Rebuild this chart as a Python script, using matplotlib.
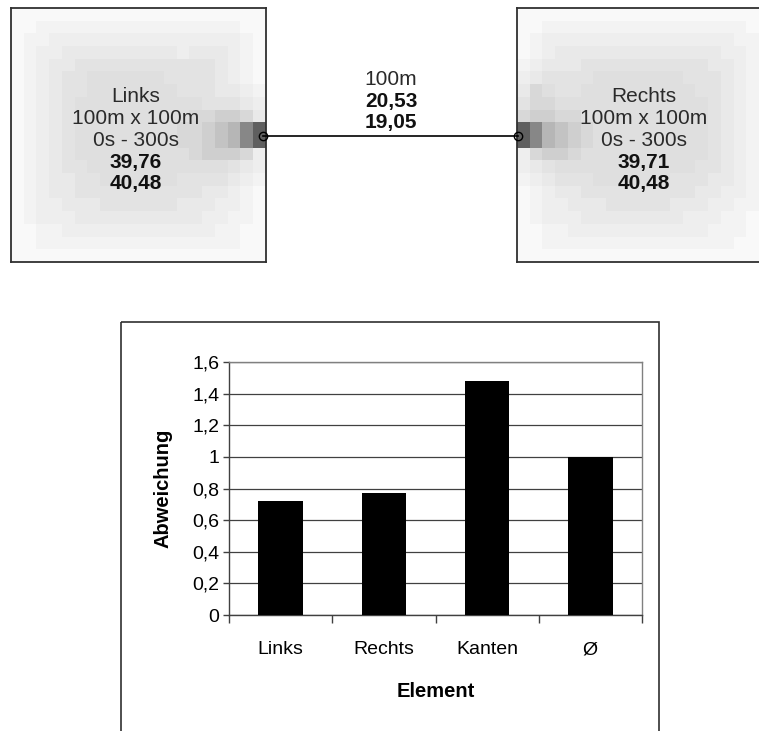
import matplotlib
matplotlib.use("Agg")
import matplotlib.pyplot as plt
import numpy as np
from matplotlib.patches import Rectangle

plt.rcParams['font.family'] = ['Liberation Sans', 'DejaVu Sans']

# ---------------- data ----------------
categories = ["Links", "Rechts", "Kanten", "\u00d8"]
abweichung = [0.72, 0.77, 1.48, 1.00]
y_ticks = [0, 0.2, 0.4, 0.6, 0.8, 1.0, 1.2, 1.4, 1.6]
y_tick_labels = ["0", "0,2", "0,4", "0,6", "0,8", "1", "1,2", "1,4", "1,6"]
x_label = "Element"
y_label = "Abweichung"

left_lines = ["Links", "100m x 100m", "0s - 300s", "39,76", "40,48"]
right_lines = ["Rechts", "100m x 100m", "0s - 300s", "39,71", "40,48"]
line_bold = [False, False, False, True, True]
edge_lines = ["100m", "20,53", "19,05"]
edge_bold = [False, True, True]

# gray level codes of the heat cells
level_gray = {'0': 249, '1': 243, '2': 238, '3': 233, '4': 228, '5': 223,
              '6': 216, '7': 207, '8': 196, '9': 182, 'a': 160, 'b': 135, 'c': 95}
left_cells = [
    "00000 00000 00000 00000",
    "00111 11111 11111 11100",
    "01122 22222 22222 22210",
    "01223 33333 33323 33210",
    "01233 44444 44444 43210",
    "01234 45555 55444 43210",
    "01234 45555 55544 43321",
    "01234 55555 55555 44432",
    "01234 55555 55556 67763",
    "01234 55555 55566 789bc",
    "01234 55555 55566 789bc",
    "01234 55555 55556 77762",
    "01234 45555 55555 55432",
    "01233 44555 55544 44321",
    "01233 44444 44444 33210",
    "01223 33444 44433 32210",
    "01222 33333 33333 22110",
    "00112 22222 22222 21100",
    "00111 11111 11111 11100",
    "00000 00000 00000 00000",
]
right_cells = [
    "00000 00000 00000 00000",
    "00111 11111 11111 11100",
    "01222 22222 22222 22110",
    "01233 33333 33333 32210",
    "12333 44444 44444 33210",
    "23444 45555 55544 43210",
    "36544 55555 55554 43210",
    "46655 55555 55555 43210",
    "67766 55555 55555 43210",
    "cb987 65555 55555 43210",
    "cb987 65555 55555 43210",
    "26776 55555 55555 43210",
    "23455 55555 55554 43210",
    "12344 45555 55444 33210",
    "01233 44444 44443 32210",
    "01223 33444 44333 22110",
    "01222 33333 33322 21100",
    "00112 22222 22222 11100",
    "00111 11111 11111 11000",
    "00000 00000 00000 00000",
]


def cells_to_array(rows):
    return np.array([[level_gray[c] for c in r.replace(" ", "")] for r in rows], dtype=float)


W, H = 759, 731
fig = plt.figure(figsize=(W / 100, H / 100), dpi=100)


def rect(x0, y0, x1, y1):
    return [x0 / W, 1 - y1 / H, (x1 - x0) / W, (y1 - y0) / H]


# ---------------- heat boxes ----------------
box_color = '#303030'
for cells, (x0, x1) in [(left_cells, (11, 266)), (right_cells, (517, 772))]:
    bx = fig.add_axes(rect(x0, 8, x1, 262))
    bx.imshow(cells_to_array(cells), cmap='gray', vmin=0, vmax=255,
              interpolation='nearest', aspect='auto')
    bx.set_xticks([])
    bx.set_yticks([])
    for s in bx.spines.values():
        s.set_color(box_color)
        s.set_linewidth(1.3)

# ---------------- overlay (connector, labels, frame) ----------------
ov = fig.add_axes([0, 0, 1, 1], zorder=5)
ov.set_xlim(0, W)
ov.set_ylim(H, 0)
ov.axis('off')
ov.patch.set_alpha(0)

ov.plot([263, 518], [136, 136], color='black', lw=1.2)
ov.plot([263, 518], [136, 136], linestyle='none', marker='o', markersize=6,
        markerfacecolor='none', markeredgecolor='black', markeredgewidth=1.0)

baselines = [102, 124, 146, 168, 189]
for lines, cx in [(left_lines, 136), (right_lines, 644)]:
    for txt, yb, b in zip(lines, baselines, line_bold):
        ov.text(cx, yb, txt, ha='center', va='baseline', fontsize=15,
                fontweight='bold' if b else 'normal',
                color='#111111' if b else '#2a2a2a')
for txt, yb, b in zip(edge_lines, [85, 107, 128], edge_bold):
    ov.text(391, yb, txt, ha='center', va='baseline', fontsize=15,
            fontweight='bold' if b else 'normal',
            color='#111111' if b else '#2a2a2a')

ov.add_patch(Rectangle((121, 322), 659 - 121, 430, fill=False,
                       edgecolor=box_color, lw=1.2, clip_on=False))

# ---------------- bar chart ----------------
ax = fig.add_axes(rect(229, 362, 642, 615))
x = np.arange(len(categories))
ax.bar(x, abweichung, width=0.43, color='black', zorder=3)
ax.set_xlim(-0.5, len(categories) - 0.5)
ax.set_ylim(0, 1.6)
ax.set_yticks(y_ticks)
ax.set_yticklabels(y_tick_labels, fontsize=14)
ax.set_xticks(np.arange(len(categories) + 1) - 0.5)
ax.set_xticklabels([])
ax.set_xticks(x, minor=True)
ax.set_xticklabels(categories, minor=True, fontsize=14)
ax.tick_params(axis='x', which='major', length=6, width=1, color='#404040', direction='out')
ax.tick_params(axis='x', which='minor', length=0, pad=19)
ax.tick_params(axis='y', length=4, width=1, color='#404040', pad=3)
ax.yaxis.grid(True, color='#404040', lw=0.9)
ax.set_axisbelow(True)
for side in ['top', 'right']:
    ax.spines[side].set_color('#808080')
    ax.spines[side].set_linewidth(1.0)
for side in ['left', 'bottom']:
    ax.spines[side].set_color('#404040')
    ax.spines[side].set_linewidth(1.0)
ax.set_xlabel(x_label, fontsize=14.5, fontweight='bold', labelpad=17)
ax.set_ylabel(y_label, fontsize=14.5, fontweight='bold', labelpad=14)

fig.savefig('out.png', dpi=100)
